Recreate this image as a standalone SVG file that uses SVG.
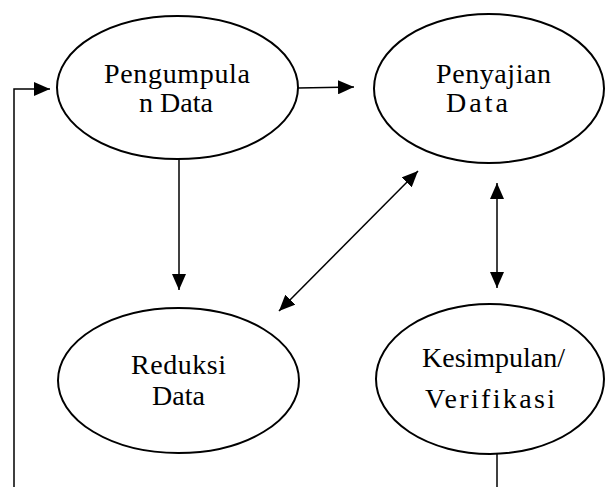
<svg xmlns="http://www.w3.org/2000/svg" width="606" height="487" viewBox="0 0 606 487">
<style>
.node ellipse{fill:#fff;stroke:#000;stroke-width:2}
.node text{font-family:'Liberation Serif','Times New Roman',Times,'DejaVu Serif',serif;font-size:28px;fill:#000}
.conn line,.conn polyline{stroke:#000;stroke-width:1.5;fill:none}
</style>
<defs>
<marker id="ah" markerUnits="userSpaceOnUse" markerWidth="16" markerHeight="14" refX="16" refY="7" orient="auto-start-reverse">
<path d="M0,0 L16,7 L0,14 Z" fill="#000"/>
</marker>
</defs>
<rect width="606" height="487" fill="#fff"/>
<g id="n1" class="node">
<ellipse cx="177.5" cy="87.5" rx="120.5" ry="71.5"/>
<text x="104" y="83" textLength="146" lengthAdjust="spacing">Pengumpula</text>
<text x="139" y="112">n Data</text>
</g>
<g id="n2" class="node">
<ellipse cx="489" cy="88.5" rx="115" ry="74.5"/>
<text x="436" y="83" textLength="115" lengthAdjust="spacing">Penyajian</text>
<text x="446" y="112" textLength="62" lengthAdjust="spacing">Data</text>
</g>
<g id="n3" class="node">
<ellipse cx="178.5" cy="380.5" rx="120.5" ry="72.5"/>
<text x="131" y="374" textLength="95" lengthAdjust="spacing">Reduksi</text>
<text x="152" y="405">Data</text>
</g>
<g id="n4" class="node">
<ellipse cx="490" cy="379" rx="114" ry="75"/>
<text x="422" y="367" textLength="143" lengthAdjust="spacing">Kesimpulan/</text>
<text x="425" y="408" textLength="130" lengthAdjust="spacing">Verifikasi</text>
</g>
<g id="connectors" class="conn">
<line x1="298" y1="88" x2="354" y2="87" marker-end="url(#ah)"/>
<line x1="179" y1="159" x2="179" y2="290" marker-end="url(#ah)"/>
<line x1="279" y1="311" x2="418" y2="171" marker-start="url(#ah)" marker-end="url(#ah)"/>
<line x1="497" y1="183" x2="497" y2="288" marker-start="url(#ah)" marker-end="url(#ah)"/>
<line x1="497" y1="454" x2="497" y2="487"/>
<polyline points="14,487 14,89 50,89" marker-end="url(#ah)"/>
</g>
</svg>
